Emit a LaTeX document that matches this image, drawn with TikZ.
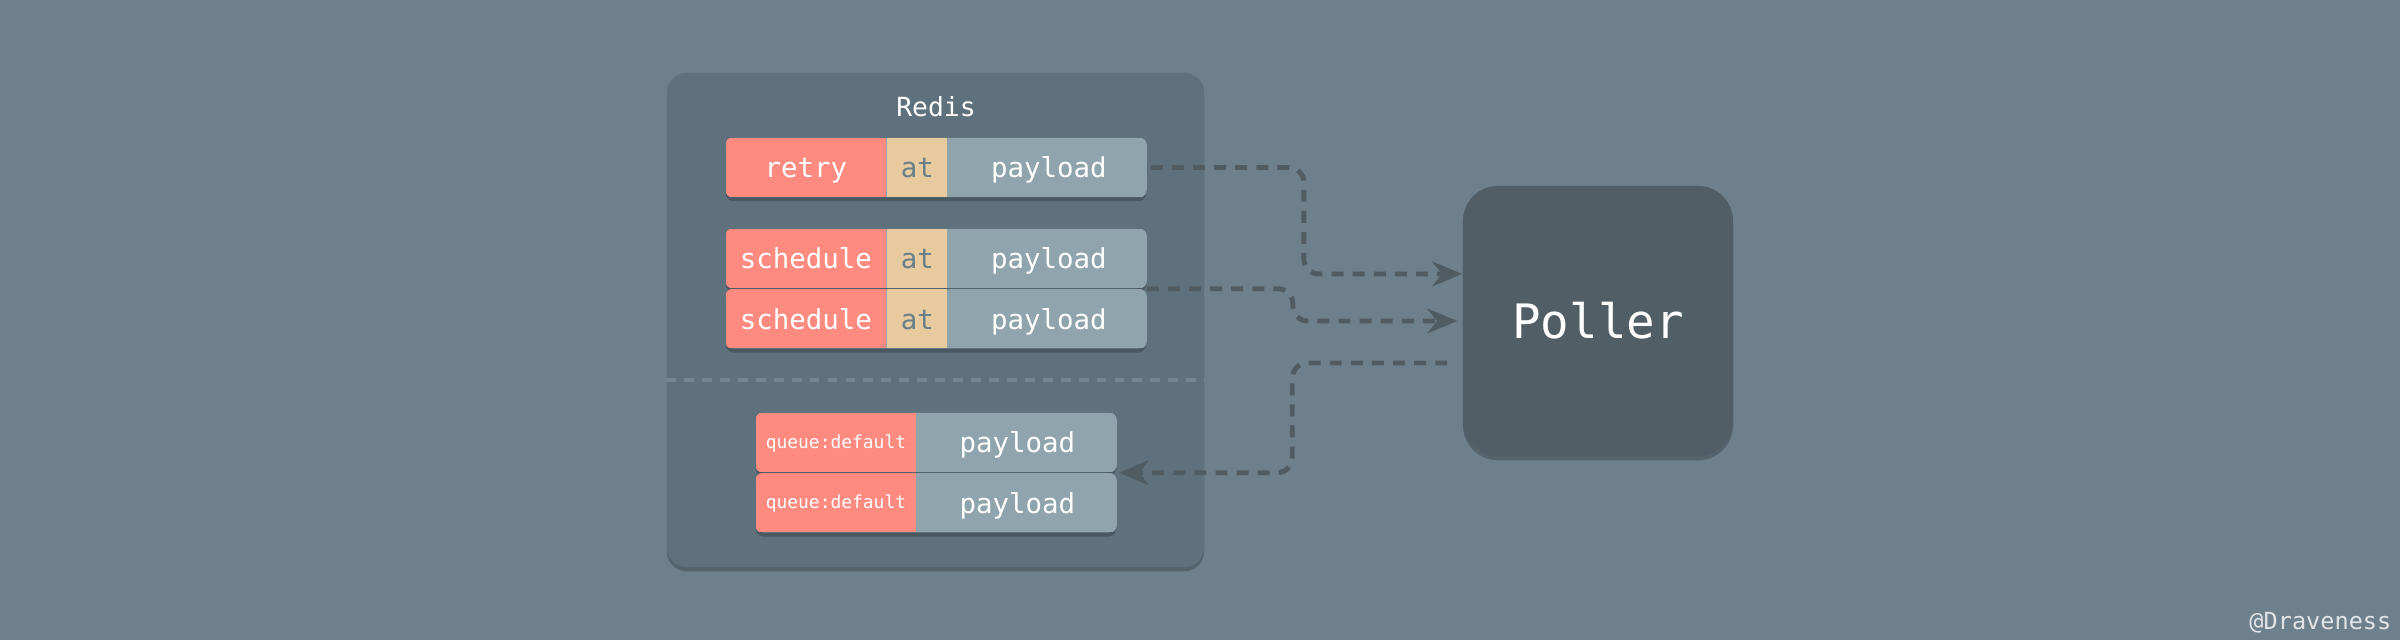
\documentclass[tikz,border=0pt]{standalone}
\usepackage{fontspec}
\setmonofont{DejaVu Sans Mono}
\usepackage{tikz}
\usetikzlibrary{positioning, shadows, arrows.meta}
\definecolor{grundc}{HTML}{6E808C}
\definecolor{redisc}{HTML}{5E717D}
\definecolor{trennc}{HTML}{74868F}
\definecolor{schluesselc}{HTML}{FF8A80}
\definecolor{zeitc}{HTML}{E7CB9F}
\definecolor{zeittext}{HTML}{6A7E8A}
\definecolor{nutzc}{HTML}{90A4AE}
\definecolor{pollerc}{HTML}{525E66}
\definecolor{pfeilc}{HTML}{505B62}
\tikzset{kasten/.style={rectangle, fill=#1, text=white, drop shadow={shadow xshift=0pt, shadow yshift=-1.2pt, opacity=0.22, fill=black}},
	zeile/.style={kasten=nutzc, rounded corners=0.08cm, minimum height=0.59cm, inner sep=0},
	zelle/.style={rectangle, minimum height=0.59cm, inner sep=0, text=white, text height=6.8pt, text depth=1pt,
		font=\ttfamily\fontsize{7.8}{9}\selectfont},
	schluessel/.style={zelle, fill=schluesselc, minimum width=1.6cm},
	zeit/.style={zelle, fill=zeitc, text=zeittext, minimum width=0.6cm},
	nutzlast/.style={zelle, fill=nutzc, minimum width=2cm},
	klein/.style={font=\ttfamily\fontsize{5.1}{6}\selectfont, text height=4pt, text depth=0.7pt},
	pfeil/.style={draw=pfeilc, line width=1.4pt, dash pattern=on 3.4pt off 2.6pt, rounded corners=0.15cm,
		-{Stealth[length=8.5pt, width=7pt]}},
	trenner/.style={draw=trennc, line width=1.1pt, dash pattern=on 2.8pt off 2.3pt} }

\begin{document}
\begin{tikzpicture}
	[x=0.01cm, y=-0.01cm]

  \useasboundingbox (0,0) rectangle (2400,640);
  \fill[grundc] (0,0) rectangle (2400,640);

  \node (redis) [kasten=redisc, rounded corners=0.2cm, minimum width=5.37cm, minimum height=4.94cm] at (935.5,320) {};
  \node (titel) [text=white, font=\ttfamily\fontsize{7.5}{9}\selectfont] at (936,107) {Redis};
  \draw[trenner] ([yshift=-0.6cm]redis.west) -- ([yshift=-0.6cm]redis.east);

  % retry
  \node (r1) [zeile, minimum width=4.2cm] at (936,167.5) {};
  \begin{scope}
  	\clip[rounded corners=0.08cm] (r1.south west) rectangle (r1.north east);
  	\node (k1) [schluessel, right=0pt of r1.west] {retry};
  	\node (a1) [zeit, right=0pt of k1] {at};
  	\node (p1) [nutzlast, right=0pt of a1] {payload};
  \end{scope}

  % schedule
  \node (r2) [zeile, minimum width=4.2cm] at (936,258.5) {};
  \begin{scope}
  	\clip[rounded corners=0.08cm] (r2.south west) rectangle (r2.north east);
  	\node (k2) [schluessel, right=0pt of r2.west] {schedule};
  	\node (a2) [zeit, right=0pt of k2] {at};
  	\node (p2) [nutzlast, right=0pt of a2] {payload};
  \end{scope}
  \node (r3) [zeile, minimum width=4.2cm, below=0pt of r2] {};
  \begin{scope}
  	\clip[rounded corners=0.08cm] (r3.south west) rectangle (r3.north east);
  	\node (k3) [schluessel, right=0pt of r3.west] {schedule};
  	\node (a3) [zeit, right=0pt of k3] {at};
  	\node (p3) [nutzlast, right=0pt of a3] {payload};
  \end{scope}

  % queue
  \node (r4) [zeile, minimum width=3.6cm] at (936,442.5) {};
  \begin{scope}
  	\clip[rounded corners=0.08cm] (r4.south west) rectangle (r4.north east);
  	\node (k4) [schluessel, klein, right=0pt of r4.west] {queue:default};
  	\node (p4) [nutzlast, right=0pt of k4] {payload};
  \end{scope}
  \node (r5) [zeile, minimum width=3.6cm, below=0pt of r4] {};
  \begin{scope}
  	\clip[rounded corners=0.08cm] (r5.south west) rectangle (r5.north east);
  	\node (k5) [schluessel, klein, right=0pt of r5.west] {queue:default};
  	\node (p5) [nutzlast, right=0pt of k5] {payload};
  \end{scope}

  \node (poller) [kasten=pollerc, rounded corners=0.35cm, minimum size=2.7cm, font=\ttfamily\fontsize{13.5}{16}\selectfont] at (1598,321) {Poller};

  \draw[pfeil] ([xshift=0.04cm]r1.east) -- ++(153,0) |- ([yshift=0.47cm]poller.west);
  \draw[pfeil, shorten >=0.05cm] (r2.south east) -- ++(146,0) |- (poller.west);
  \draw[pfeil] ([xshift=-0.15cm, yshift=-0.42cm]poller.west) -- ++(-155,0) |- ([xshift=0.02cm]r4.south east);

  \node (autor) [anchor=east, inner sep=0, text=white!80!grundc, font=\ttfamily\fontsize{6.7}{8}\selectfont] at (2392,623) {@Draveness};
\end{tikzpicture}
\end{document}
